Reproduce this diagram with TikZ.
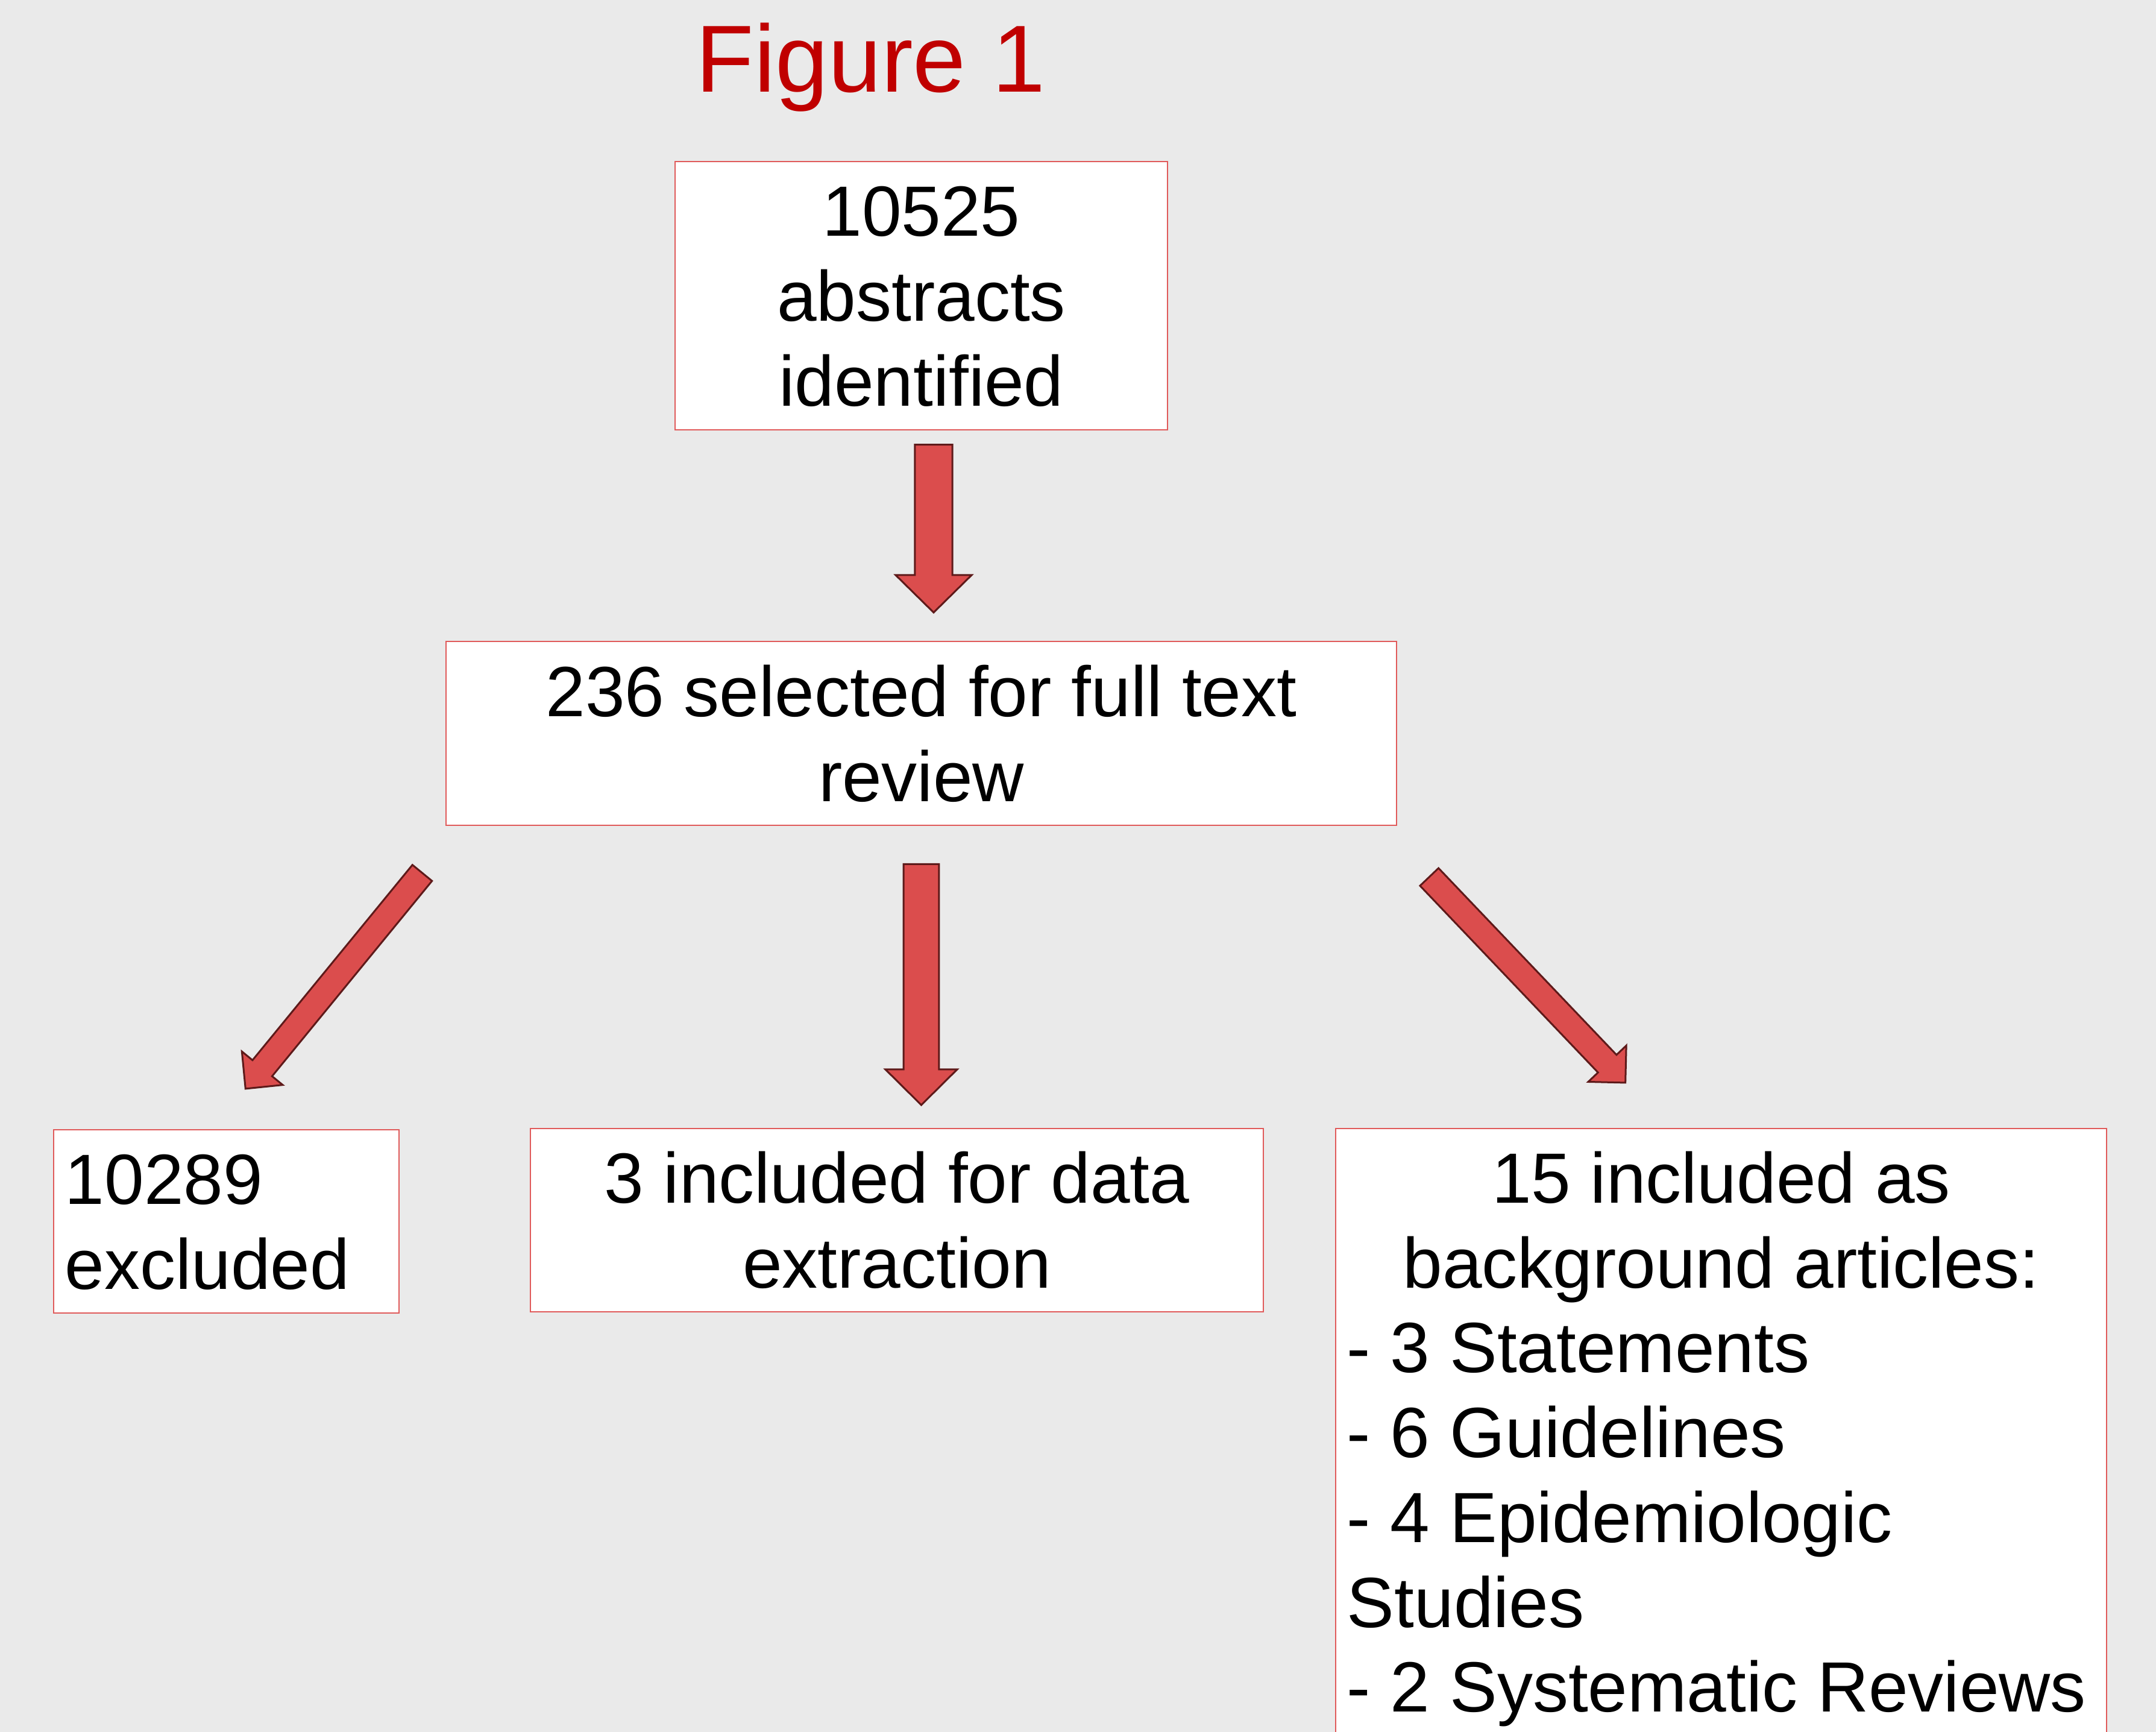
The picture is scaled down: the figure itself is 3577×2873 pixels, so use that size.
\documentclass[tikz,border=0pt]{standalone}
\usepackage{fontspec}
\setmainfont{Liberation Sans}
\usetikzlibrary{calc}
\definecolor{bgcol}{HTML}{EAEAEA}
\definecolor{boxline}{HTML}{E05A5A}
\definecolor{arrfill}{HTML}{DB4D4D}
\definecolor{arrline}{HTML}{5E1A1A}
\definecolor{titlered}{HTML}{C00000}
\tikzset{
  box/.style={draw=boxline, fill=white, line width=0.2pt, inner sep=0pt, outer sep=0pt, anchor=north west},
  txt/.style={inner sep=0pt, outer sep=0pt, font=\fontsize{11.8}{14.07}\selectfont},
  arrowshape/.style={draw=arrline, fill=arrfill, line width=0.3pt, line join=miter},
}
\newcommand\blockarrow[5]{%
  \path ($(#2)!#5!(#1)$) coordinate (#1-hb);
  \draw[arrowshape] ($(#1)!#3!90:(#2)$) -- ($(#1-hb)!#3!90:(#2)$) -- ($(#1-hb)!#4!90:(#2)$) -- (#2)
    -- ($(#1-hb)!#4!-90:(#2)$) -- ($(#1-hb)!#3!-90:(#2)$) -- ($(#1)!#3!-90:(#2)$) -- cycle;
}
\newcommand\clines[1]{\begin{tabular}[t]{@{}c@{}}#1\end{tabular}}
\newcommand\llines[1]{\begin{tabular}[t]{@{}l@{}}#1\end{tabular}}
\begin{document}
\begin{tikzpicture}[x=0.1pt,y=-0.1pt]
\useasboundingbox (0,0) rectangle (3577,2873);
\clip (0,0) rectangle (3577,2873);
\fill[bgcol] (0,0) rectangle (3577,2873);

% title
\node[inner sep=0pt, anchor=base west, text=titlered, font=\fontsize{15.8}{19}\selectfont] (title) at (1153,153) {Figure 1};

% boxes
\node[box, minimum width=81.7pt, minimum height=44.5pt] (topbox) at (1120,268) {};
\node[box, minimum width=157.7pt, minimum height=30.5pt] (midbox) at (740,1064) {};
\node[box, minimum width=57.34pt, minimum height=30.4pt] (excl) at (88.6,1874) {};
\node[box, minimum width=121.6pt, minimum height=30.37pt] (incl) at (880,1872) {};
\node[box, minimum width=127.9pt, minimum height=112.8pt] (bg) at (2216,1872) {};

% texts
\node[txt, anchor=base] (toptxt) at (1528.5,392) {\clines{10525\\abstracts\\identified}};
\node[txt, anchor=base] (midtxt) at (1528.5,1189) {\clines{236 selected for full text\\review}};
\node[txt, anchor=base west] (excltxt) at (108,1998) {\llines{10289\\excluded}};
\node[txt, anchor=base] (incltxt) at (1488,1996) {\clines{3 included for data\\extraction}};
\node[txt, anchor=base] (bgtxt) at (2855.5,1996) {\clines{15 included as\\background articles:}};
\node[txt, anchor=base west] (bglist) at (2235,2277) {\llines{- 3 Statements\\- 6 Guidelines\\- 4 Epidemiologic\\Studies\\- 2 Systematic Reviews}};

% arrow end points
\coordinate (a1t) at (1549,737.7);
\coordinate (a1h) at (1549,1016);
\coordinate (a2t) at (700.5,1448);
\coordinate (a2h) at (407.3,1806);
\coordinate (a3t) at (1528.5,1433.5);
\coordinate (a3h) at (1528.5,1833);
\coordinate (a4t) at (2371.3,1454.7);
\coordinate (a4h) at (2696.7,1796);

\blockarrow{a1t}{a1h}{3.115pt}{6.3pt}{6.2pt}
\blockarrow{a2t}{a2h}{2.1pt}{4.375pt}{4.4pt}
\blockarrow{a3t}{a3h}{2.95pt}{5.95pt}{5.9pt}
\blockarrow{a4t}{a4h}{2.12pt}{4.36pt}{4.36pt}
\end{tikzpicture}
\end{document}
